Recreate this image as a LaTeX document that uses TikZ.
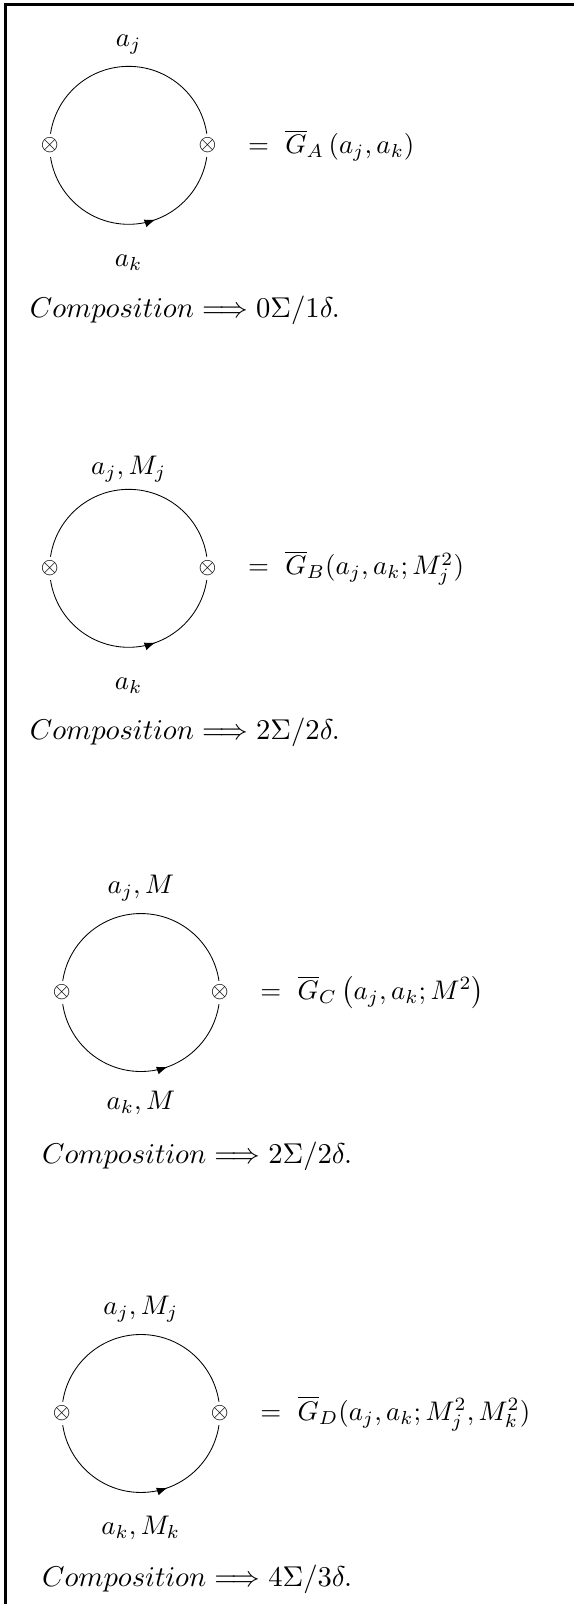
\documentclass[tikz,border=0pt]{standalone}
\usepackage{amsmath}
\usepackage{amssymb}
\usetikzlibrary{arrows.meta, decorations.markings, positioning}

\begin{document}
\begin{tikzpicture}[
  vtx/.style={circle, fill=white, inner sep=0pt, font=\footnotesize, scale=0.94},
  prop/.style={line width=0.3pt},
  fwd/.style={line width=0.3pt, postaction={decorate},
    decoration={markings, mark=at position 0.61 with {\arrow{Latex[length=3.8pt,width=2.8pt]}}}},
  lbl/.style={scale=0.94},
  eq/.style={inner sep=0pt, scale=0.94},
  comp/.style={inner sep=0pt, anchor=west}
]
\useasboundingbox (0,0) rectangle (7.05,-19.70);
% frame
\draw[line width=1pt] (0.07,-19.70) -- (0.07,-0.06) -- (7.05,-0.06);

% diagram A
\coordinate (lA) at (0.61,-1.785);
\coordinate (rA) at (2.55,-1.785);
\draw[prop] (lA) arc[start angle=180, end angle=0, radius=0.97];
\draw[fwd] (lA) arc[start angle=180, end angle=360, radius=0.97];
\node[vtx] (xlA) at (lA) {$\otimes$};
\node[vtx] (xrA) at (rA) {$\otimes$};
\node[lbl] (topA) at (1.58,-0.55) {$a_j$};
\node[lbl] (botA) at (1.58,-3.23) {$a_k$};
\node[eq, right=0.34cm of xrA] (eqA) {$=\ \overline{G}_A\,(a_j,a_k)$};
\node[comp] (compA) at (0.36,-3.81) {$Composition \Longrightarrow 0\Sigma/1\delta.$};

% diagram B
\coordinate (lB) at (0.61,-6.98);
\coordinate (rB) at (2.55,-6.98);
\draw[prop] (lB) arc[start angle=180, end angle=0, radius=0.97];
\draw[fwd] (lB) arc[start angle=180, end angle=360, radius=0.97];
\node[vtx] (xlB) at (lB) {$\otimes$};
\node[vtx] (xrB) at (rB) {$\otimes$};
\node[lbl] (topB) at (1.58,-5.76) {$a_j,M_j$};
\node[lbl] (botB) at (1.58,-8.42) {$a_k$};
\node[eq, right=0.34cm of xrB] (eqB) {$=\ \overline{G}_B(a_j,a_k;M_j^2)$};
\node[comp] (compB) at (0.36,-9.00) {$Composition \Longrightarrow 2\Sigma/2\delta.$};

% diagram C
\coordinate (lC) at (0.76,-12.19);
\coordinate (rC) at (2.70,-12.19);
\draw[prop] (lC) arc[start angle=180, end angle=0, radius=0.97];
\draw[fwd] (lC) arc[start angle=180, end angle=360, radius=0.97];
\node[vtx] (xlC) at (lC) {$\otimes$};
\node[vtx] (xrC) at (rC) {$\otimes$};
\node[lbl] (topC) at (1.73,-10.91) {$a_j,M$};
\node[lbl] (botC) at (1.73,-13.55) {$a_k,M$};
\node[eq, right=0.34cm of xrC] (eqC) {$=\ \overline{G}_C\left(a_j,a_k;M^2\right)$};
\node[comp] (compC) at (0.51,-14.20) {$Composition \Longrightarrow 2\Sigma/2\delta.$};

% diagram D
\coordinate (lD) at (0.76,-17.36);
\coordinate (rD) at (2.70,-17.36);
\draw[prop] (lD) arc[start angle=180, end angle=0, radius=0.97];
\draw[fwd] (lD) arc[start angle=180, end angle=360, radius=0.97];
\node[vtx] (xlD) at (lD) {$\otimes$};
\node[vtx] (xrD) at (rD) {$\otimes$};
\node[lbl] (topD) at (1.73,-16.08) {$a_j,M_j$};
\node[lbl] (botD) at (1.73,-18.77) {$a_k,M_k$};
\node[eq, right=0.34cm of xrD] (eqD) {$=\ \overline{G}_D(a_j,a_k;M_j^2,M_k^2)$};
\node[comp] (compD) at (0.51,-19.40) {$Composition \Longrightarrow 4\Sigma/3\delta.$};
\end{tikzpicture}
\end{document}
